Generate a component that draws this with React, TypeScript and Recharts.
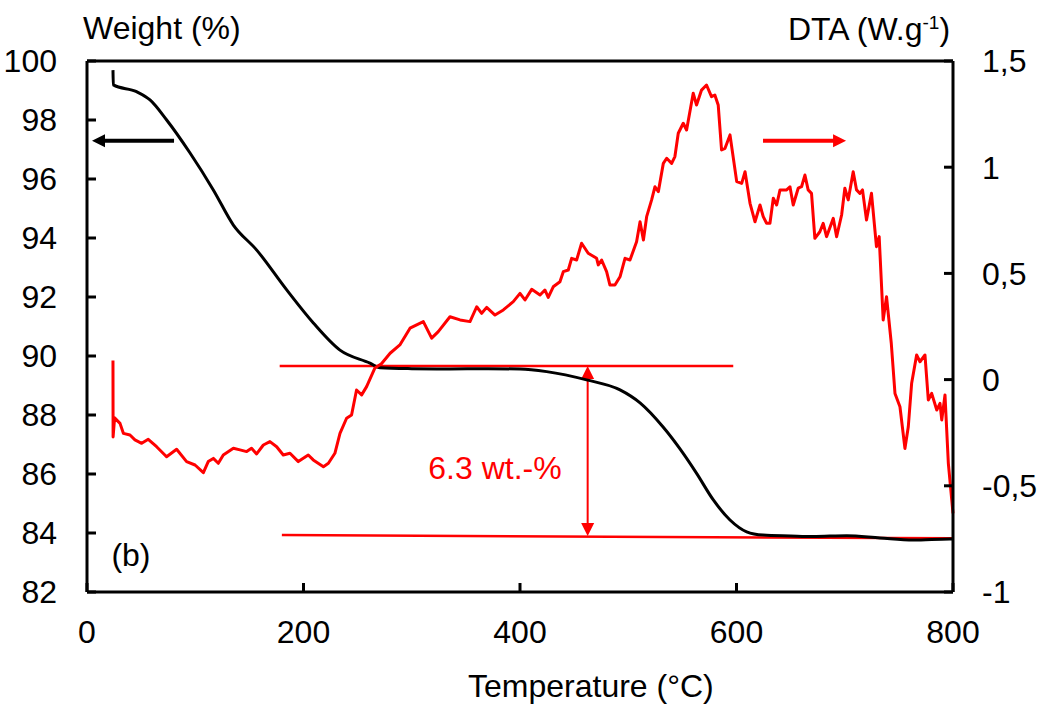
import React from "react";
import { ComposedChart, Line, XAxis, YAxis, ReferenceLine, ReferenceDot } from "recharts";

// axis ticks
const tempTicks = [0, 200, 400, 600, 800];
const weightTicks = [82, 84, 86, 88, 90, 92, 94, 96, 98, 100];
const dtaTicks = [-1, -0.5, 0, 0.5, 1, 1.5];

// TGA curve (weight %)
const tgaTemp = [24.0, 24.3, 45.8, 58.2, 73.6, 95.2, 116.7, 135.2, 156.8, 184.5, 209.1, 233.7, 261.4, 270.7, 300, 332, 370, 400, 424.6, 461.5, 492.4, 510.9, 532, 547.8, 563, 578.6, 594, 609.4, 624.5, 650, 670.7, 701.8, 732.6, 763.3, 797, 800];
const tgaWeight = [99.69, 99.19, 98.96, 98.68, 98.0, 96.88, 95.63, 94.44, 93.59, 92.24, 91.12, 90.2, 89.76, 89.6, 89.57, 89.56, 89.57, 89.56, 89.47, 89.19, 88.85, 88.41, 87.6, 86.85, 86.03, 85.12, 84.44, 84.04, 83.93, 83.9, 83.88, 83.91, 83.83, 83.76, 83.8, 83.8];

// DTA curve (W/g)
const dtaTemp = [24.0, 24.1, 25.5, 30.5, 33.6, 39.7, 44.3, 50.5, 56.6, 64.3, 73.5, 82.8, 92.0, 99.8, 107.5, 112.0, 116.7, 121.3, 125.9, 135.2, 141.3, 147.5, 152.0, 156.7, 162.9, 169.0, 175.2, 181.3, 187.5, 195.2, 204.4, 209.0, 218.4, 223.0, 229.0, 233.7, 239.8, 244.4, 249.0, 253.7, 258.3, 266.0, 272.0, 280.0, 289.0, 298.4, 310.7, 318.4, 324.5, 335.3, 344.6, 353.8, 360.0, 364.6, 369.2, 376.9, 384.6, 393.8, 400.0, 404.6, 410.8, 418.5, 423.0, 426.1, 430.7, 436.9, 440.0, 444.6, 447.7, 452.3, 456.9, 463.0, 470.8, 472.3, 475.4, 480.0, 483.1, 487.7, 492.4, 497.0, 501.6, 507.7, 510.9, 514.0, 517.0, 521.6, 524.7, 527.8, 532.4, 535.5, 540.1, 543.1, 546.2, 550.8, 553.9, 560.0, 563.1, 567.7, 572.3, 576.9, 580.0, 583.1, 586.2, 589.4, 594.0, 600.2, 604.8, 607.9, 612.5, 617.1, 621.7, 624.7, 627.8, 630.9, 634.0, 637.1, 640.2, 646.3, 649.4, 652.4, 657.0, 660.1, 663.2, 666.2, 669.3, 672.4, 677.0, 680.1, 683.2, 689.4, 692.5, 697.1, 700.1, 703.2, 707.8, 710.9, 714.0, 716.4, 720.1, 724.7, 729.3, 731.8, 735.5, 738.6, 743.0, 746.4, 751.0, 755.6, 758.7, 761.8, 766.4, 769.5, 774.1, 777.2, 780.3, 785.0, 788.0, 789.6, 792.6, 795.7, 800.0];
const dtaSignal = [0.09, -0.27, -0.18, -0.206, -0.253, -0.261, -0.284, -0.3, -0.281, -0.316, -0.363, -0.328, -0.386, -0.402, -0.438, -0.386, -0.371, -0.394, -0.355, -0.323, -0.331, -0.339, -0.323, -0.35, -0.308, -0.292, -0.316, -0.355, -0.347, -0.386, -0.355, -0.378, -0.41, -0.394, -0.347, -0.253, -0.182, -0.167, -0.049, -0.072, -0.033, 0.055, 0.075, 0.124, 0.163, 0.242, 0.273, 0.195, 0.226, 0.296, 0.281, 0.273, 0.343, 0.312, 0.34, 0.304, 0.328, 0.367, 0.406, 0.375, 0.425, 0.398, 0.422, 0.387, 0.437, 0.461, 0.508, 0.516, 0.571, 0.563, 0.642, 0.595, 0.571, 0.54, 0.563, 0.508, 0.445, 0.445, 0.484, 0.571, 0.563, 0.649, 0.743, 0.657, 0.767, 0.846, 0.908, 0.885, 1.018, 1.042, 1.018, 1.05, 1.16, 1.207, 1.175, 1.348, 1.293, 1.363, 1.387, 1.332, 1.34, 1.293, 1.081, 1.089, 1.152, 0.932, 0.924, 0.979, 0.83, 0.743, 0.822, 0.767, 0.736, 0.736, 0.854, 0.822, 0.893, 0.893, 0.908, 0.822, 0.901, 0.908, 0.963, 0.893, 0.877, 0.665, 0.696, 0.736, 0.673, 0.759, 0.673, 0.775, 0.901, 0.846, 0.979, 0.893, 0.877, 0.893, 0.751, 0.877, 0.626, 0.673, 0.281, 0.39, 0.17, -0.065, -0.128, -0.324, -0.222, -0.017, 0.116, 0.084, 0.116, -0.096, -0.065, -0.143, -0.112, -0.19, -0.072, -0.394, -0.63];

// annotations
const plateauTemp = [178, 597];
const plateauWeight = 89.66;
const residueTemp = [180, 800];
const residueWeight = [83.93, 83.82];
const stepArrowTemp = 462.5;
const stepLabel = "6.3 wt.-%";
const stepLabelPos = { temp: 376.9, weight: 86.2 };
const panelLabel = "(b)";
const panelLabelPos = { temp: 40.6, weight: 83.25 };
const weightArrow = { from: 80.4, to: 4.6, weight: 97.3 };
const dtaArrow = { from: 624.5, to: 701.2, weight: 97.3 };

const RED = "#ff0000";
const FONT = "'Liberation Sans', Arial, sans-serif";
const FS = 32;

const tgaData = tgaTemp.map((t, i) => ({ temp: t, weight: tgaWeight[i] }));
const dtaData = dtaTemp.map((t, i) => ({ temp: t, dta: dtaSignal[i] }));

const fmtComma = (v: number) => String(v).replace(".", ",");

const arrowShape = (color: string, width: number, both: boolean) => (p: any) => {
  const { x1, y1, x2, y2 } = p;
  const dx = x2 - x1;
  const dy = y2 - y1;
  const len = Math.hypot(dx, dy) || 1;
  const ux = dx / len;
  const uy = dy / len;
  const nx = -uy;
  const ny = ux;
  const hl = 13;
  const hw = 6.5;
  const head = (tx: number, ty: number, dx2: number, dy2: number) => {
    const bx = tx - dx2 * hl;
    const by = ty - dy2 * hl;
    return `${tx},${ty} ${bx + nx * hw},${by + ny * hw} ${bx - nx * hw},${by - ny * hw}`;
  };
  const sx = both ? x1 + ux * (hl - 2) : x1;
  const sy = both ? y1 + uy * (hl - 2) : y1;
  return (
    <g>
      <line x1={sx} y1={sy} x2={x2 - ux * (hl - 2)} y2={y2 - uy * (hl - 2)} stroke={color} strokeWidth={width} />
      <polygon points={head(x2, y2, ux, uy)} fill={color} />
      {both && <polygon points={head(x1, y1, -ux, -uy)} fill={color} />}
    </g>
  );
};

export default function App() {
  const tickStyle = { fill: "#000", fontSize: FS, fontFamily: FONT };
  const axisLine = { stroke: "#000", strokeWidth: 3 };
  return (
    <div style={{ position: "absolute", left: 0, top: 0, width: 1042, height: 711, background: "#fff", fontFamily: FONT }}>
      <ComposedChart width={1042} height={711} margin={{ top: 61, right: 88, bottom: 118, left: 86 }}>
        <XAxis
          xAxisId="x"
          type="number"
          dataKey="temp"
          domain={[0, 800]}
          ticks={tempTicks}
          interval={0}
          height={1}
          tickSize={-9}
          tickMargin={37}
          tick={tickStyle}
          axisLine={axisLine}
          tickLine={axisLine}
        />
        <YAxis
          yAxisId="left"
          type="number"
          domain={[82, 100]}
          ticks={weightTicks}
          interval={0}
          width={1}
          tickSize={-9}
          tickMargin={39}
          tick={tickStyle}
          axisLine={axisLine}
          tickLine={axisLine}
        />
        <YAxis
          yAxisId="right"
          orientation="right"
          type="number"
          domain={[-1, 1.5]}
          ticks={dtaTicks}
          interval={0}
          width={1}
          tickSize={-9}
          tickMargin={38}
          tick={tickStyle}
          tickFormatter={fmtComma}
          axisLine={axisLine}
          tickLine={axisLine}
        />
        <ReferenceLine xAxisId="x" yAxisId="left" y={100} stroke="#000" strokeWidth={3} />
        <ReferenceLine
          xAxisId="x"
          yAxisId="left"
          segment={[{ x: plateauTemp[0], y: plateauWeight }, { x: plateauTemp[1], y: plateauWeight }]}
          stroke={RED}
          strokeWidth={2.5}
        />
        <ReferenceLine
          xAxisId="x"
          yAxisId="left"
          segment={[{ x: residueTemp[0], y: residueWeight[0] }, { x: residueTemp[1], y: residueWeight[1] }]}
          stroke={RED}
          strokeWidth={2.5}
        />
        <ReferenceLine
          xAxisId="x"
          yAxisId="left"
          segment={[{ x: stepArrowTemp, y: plateauWeight }, { x: stepArrowTemp, y: 83.9 }]}
          shape={arrowShape(RED, 2, true)}
        />
        <ReferenceLine
          xAxisId="x"
          yAxisId="left"
          segment={[{ x: weightArrow.from, y: weightArrow.weight }, { x: weightArrow.to, y: weightArrow.weight }]}
          shape={arrowShape("#000", 4, false)}
        />
        <ReferenceLine
          xAxisId="x"
          yAxisId="left"
          segment={[{ x: dtaArrow.from, y: dtaArrow.weight }, { x: dtaArrow.to, y: dtaArrow.weight }]}
          shape={arrowShape(RED, 4, false)}
        />
        <Line
          xAxisId="x"
          yAxisId="left"
          data={tgaData}
          dataKey="weight"
          type="monotone"
          stroke="#000"
          strokeWidth={3}
          dot={false}
          activeDot={false}
          isAnimationActive={false}
        />
        <Line
          xAxisId="x"
          yAxisId="right"
          data={dtaData}
          dataKey="dta"
          type="linear"
          stroke={RED}
          strokeWidth={3}
          strokeLinejoin="round"
          dot={false}
          activeDot={false}
          isAnimationActive={false}
        />
        <ReferenceDot
          xAxisId="x"
          yAxisId="left"
          x={stepLabelPos.temp}
          y={stepLabelPos.weight}
          r={0}
          stroke="none"
          label={{ value: stepLabel, position: "center", fill: RED, fontSize: FS, fontFamily: FONT }}
        />
        <ReferenceDot
          xAxisId="x"
          yAxisId="left"
          x={panelLabelPos.temp}
          y={panelLabelPos.weight}
          r={0}
          stroke="none"
          label={{ value: panelLabel, position: "center", fill: "#000", fontSize: FS, fontFamily: FONT }}
        />
      </ComposedChart>
      <div style={{ position: "absolute", left: 83, top: 12, fontSize: FS, lineHeight: "32px", whiteSpace: "nowrap" }}>
        Weight (%)
      </div>
      <div style={{ position: "absolute", left: 788, top: 13, fontSize: FS, lineHeight: "32px", whiteSpace: "nowrap" }}>
        DTA (W.g<sup style={{ fontSize: 19, verticalAlign: "11px", lineHeight: 0 }}>-1</sup>)
      </div>
      <div style={{ position: "absolute", left: 468, top: 670, fontSize: FS, lineHeight: "32px", whiteSpace: "nowrap" }}>
        Temperature (°C)
      </div>
    </div>
  );
}
